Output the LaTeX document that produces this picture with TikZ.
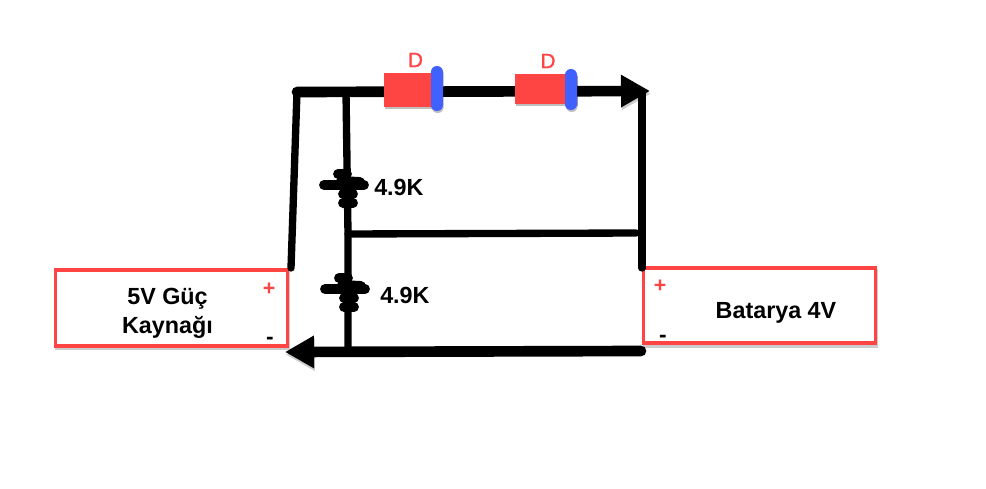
\documentclass[tikz,border=0pt]{standalone}
\usepackage{fontspec}
\setmainfont{Liberation Sans}
\newfontfamily\dfont[FakeBold=1.2]{Liberation Sans}
\usetikzlibrary{arrows.meta}
\definecolor{rd}{HTML}{FF4444}
\definecolor{bl}{HTML}{4060FF}
\tikzset{
  x=0.75pt,y=-0.75pt,
  shade line/.style={preaction={draw=black,draw opacity=.2,transform canvas={xshift=.6pt,yshift=-2pt}}},
  wire/.style={draw=black,line width=5.5pt,line cap=round,shade line},
  bus/.style={draw=black,line width=8pt,line cap=round,shade line},
  head/.style={-{Triangle[length=21.75pt,width=23pt]}},
  blob/.style={draw=black,line width=7.4pt,line cap=round},
  psubox/.style={draw=rd,line width=2.6pt,fill=white,outer sep=0pt,inner sep=0pt,
    preaction={draw=black,draw opacity=.2,transform canvas={xshift=.6pt,yshift=-2pt}}},
  redbody/.style={fill=rd,outer sep=0pt,inner sep=0pt,
    preaction={fill=black,fill opacity=.25,transform canvas={xshift=.5pt,yshift=-1.5pt}}},
  bluebar/.style={fill=bl,rounded corners=4.4pt,outer sep=0pt,inner sep=0pt,minimum width=9pt,
    preaction={fill=black,fill opacity=.25,transform canvas={xshift=.5pt,yshift=-1.5pt}}},
  lbl/.style={font=\fontsize{17.5pt}{21.5pt}\selectfont\bfseries,text=black,inner sep=0pt,align=center},
  dlbl/.style={font=\fontsize{15.5pt}{18pt}\dfont,text=rd,inner sep=0pt},
  plus/.style={font=\fontsize{16pt}{18pt}\selectfont\bfseries,text=rd,inner sep=0pt},
  minus/.style={font=\fontsize{17pt}{18pt}\selectfont\bfseries,text=black,inner sep=0pt},
}
\newcommand{\resblob}[2]{%
  \draw[blob] (#1-7,#2+1) -- (#1+2,#2+1);
  \draw[blob] (#1-4,#2+8) -- (#1+15,#2+9);
  \draw[blob] (#1-21,#2+12) -- (#1+19,#2+12);
  \draw[blob] (#1-2,#2+21) -- (#1+8,#2+21);
  \draw[blob] (#1-2,#2+30) -- (#1+8,#2+30);
}
\begin{document}
\begin{tikzpicture}
\useasboundingbox[fill=white] (0,0) rectangle (986,489);
% power boxes
\node[psubox,minimum width=174pt,minimum height=57pt] (src) at (171.5,308) {};
\node[psubox,minimum width=174pt,minimum height=56.5pt] (bat) at (759.5,305.5) {};
% junctions
\coordinate (tl) at (297,92);
\coordinate (tj) at (346,92);
\coordinate (tr) at (642,92);
\coordinate (tip) at (650,91);
\coordinate (srcplus) at (291,268);
\coordinate (batplus) at (642,268);
\coordinate (midj) at (348,234);
\coordinate (mide) at (636,233);
\coordinate (botj) at (348,352);
\coordinate (botr) at (641,351);
\coordinate (bottip) at (285,352);
% wires
\draw[wire] (tl) -- (srcplus);
\draw[wire] (tj) -- (midj) -- (botj);
\draw[wire] (tr) -- (batplus);
\draw[wire] (midj) -- (mide);
\draw[bus,head] (tl) -- (tip);
\draw[bus,head] (botr) -- (bottip);
% diodes
\node[redbody,minimum width=39.75pt,minimum height=25.5pt] (d1) at (410.5,90) {};
\node[bluebar,minimum height=33.75pt] (b1) at (437,88.5) {};
\node[redbody,minimum width=46.5pt,minimum height=22.5pt] (d2) at (546,89) {};
\node[bluebar,minimum height=30.75pt] (b2) at (571,89.5) {};
\node[dlbl] (dl1) at (415.5,60) {D};
\node[dlbl] (dl2) at (548,61) {D};
% resistors
\resblob{345}{173}
\resblob{346}{277}
\node[lbl,anchor=west] (r1) at (374,187) {4.9K};
\node[lbl,anchor=west] (r2) at (380,295) {4.9K};
% labels
\node[lbl] (t1) at (167.5,313) {5V Güç\\Kaynağı};
\node[lbl] (t2) at (776,312.5) {Batarya 4V};
\node[plus] (p1) at (269,289) {+};
\node[minus] (m1) at (270,341) {-};
\node[plus] (p2) at (660,286) {+};
\node[minus] (m2) at (663,339) {-};
\end{tikzpicture}
\end{document}
